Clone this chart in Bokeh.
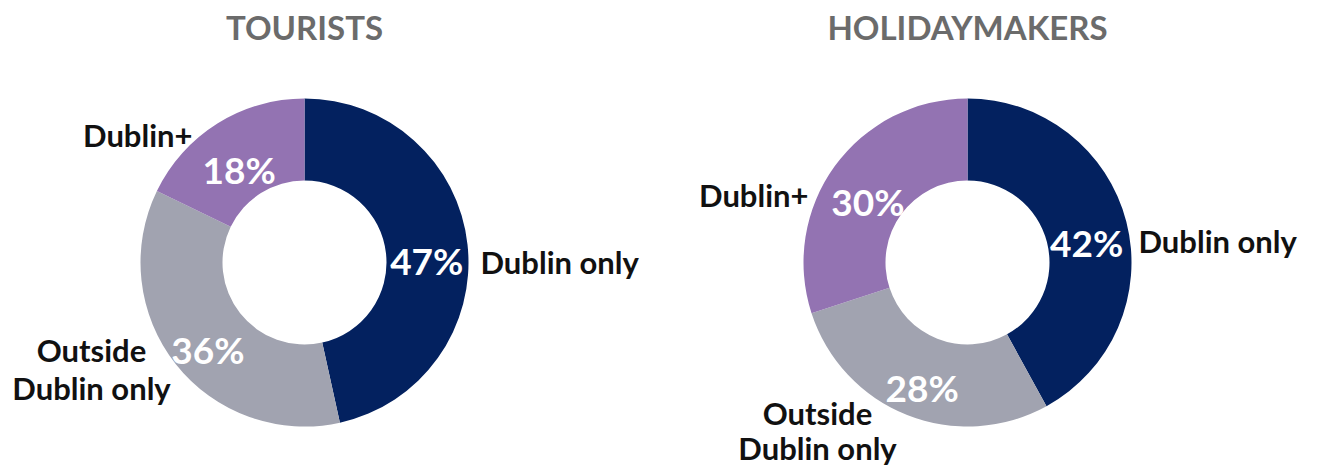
import math
from bokeh.plotting import figure
from bokeh.models import Range1d, ColumnDataSource
from bokeh.embed import file_html
from bokeh.resources import INLINE
from bokeh.core.properties import value

# ---- data ----
categories = ["Dublin only", "Outside Dublin only", "Dublin+"]
tourists = [47, 36, 18]
holidaymakers = [42, 28, 30]
titles = ["TOURISTS", "HOLIDAYMAKERS"]
colors = ["#03215F", "#A1A3B0", "#9373B2"]

# ---- layout (image pixel coords) ----
W, H = 1318, 465
def Y(img_y):
    return H - img_y

FONT = "Lato"
centers = [(304, 262), (967, 262)]
R_OUT, R_IN = 164, 82
R_LBL = 123
LBL_DROP = 11

cat_pos = [
    {"Dublin only": [(480, 261, "left")],
     "Dublin+": [(192, 134, "right")],
     "Outside Dublin only": [(91, 349, "center"), (91, 387, "center")]},
    {"Dublin only": [(1138, 240, "left")],
     "Dublin+": [(808, 194, "right")],
     "Outside Dublin only": [(817, 412, "center"), (817, 447, "center")]},
]
cat_lines = {"Dublin only": ["Dublin only"], "Dublin+": ["Dublin+"],
             "Outside Dublin only": ["Outside", "Dublin only"]}

p = figure(width=W, height=H, x_range=Range1d(0, W), y_range=Range1d(0, H),
           output_backend="svg", toolbar_location=None, min_border=0,
           x_axis_location=None, y_axis_location=None)
p.grid.visible = False
p.outline_line_color = None

for k, vals in enumerate([tourists, holidaymakers]):
    cx, cy = centers[k]
    total = float(sum(vals))
    starts, ends, mids = [], [], []
    cum = 0.0
    for v in vals:
        a0 = 90 - cum / total * 360
        cum += v
        a1 = 90 - cum / total * 360
        starts.append(math.radians(a0))
        ends.append(math.radians(a1))
        mids.append(math.radians((a0 + a1) / 2))
    src = ColumnDataSource(dict(x=[cx] * 3, y=[Y(cy)] * 3, start=starts, end=ends,
                                color=colors, cat=categories))
    p.annular_wedge(x="x", y="y", inner_radius=R_IN, outer_radius=R_OUT,
                    start_angle="start", end_angle="end", direction="clock",
                    fill_color="color", line_color=None, source=src)
    lx = [cx + R_LBL * math.cos(m) for m in mids]
    ly = [Y(cy) + R_LBL * math.sin(m) - LBL_DROP for m in mids]
    p.text(x=lx, y=ly, text=[f"{v}%" for v in vals], text_color="white",
           text_font=value(FONT), text_font_style="bold", text_font_size="37px",
           text_align="center", text_baseline="middle")
    for c in categories:
        for (x, y, al), line in zip(cat_pos[k][c], cat_lines[c]):
            p.text(x=[x], y=[Y(y)], text=[line], text_color="#111111",
                   text_font=value(FONT), text_font_style="bold", text_font_size="31px",
                   text_align=al, text_baseline="middle")
    p.text(x=[cx], y=[Y(26)], text=[titles[k]], text_color="#6B6B6B",
           text_font=value(FONT), text_font_style="bold", text_font_size="33px",
           text_align="center", text_baseline="middle")

open("out.html", "w").write(file_html(p, INLINE))
